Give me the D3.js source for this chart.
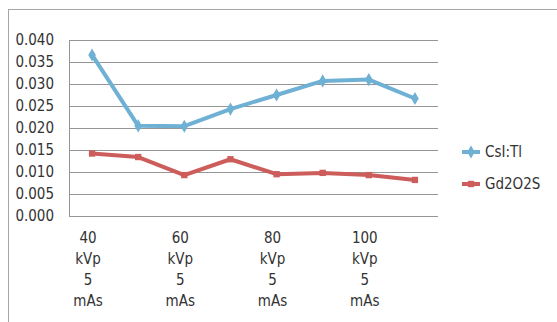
<!DOCTYPE html>
<html>
<head>
<meta charset="utf-8">
<script src="https://cdn.jsdelivr.net/npm/d3@7"></script>
<style>
  body { margin: 0; background: #fff; }
  svg { display: block; }
  text { font-family: "DejaVu Sans Condensed", "Liberation Sans Narrow", "Liberation Sans", sans-serif; fill: #333; }
</style>
</head>
<body>
<svg id="chart" width="557" height="322"></svg>
<script>
// categories (only every other one gets a label, like the original)
const categories = ["40 kVp 5 mAs", "50 kVp 5 mAs", "60 kVp 5 mAs", "70 kVp 5 mAs",
                    "80 kVp 5 mAs", "90 kVp 5 mAs", "100 kVp 5 mAs", "110 kVp 5 mAs"];
const shownLabels = [["40", "kVp", "5", "mAs"], null, ["60", "kVp", "5", "mAs"], null,
                     ["80", "kVp", "5", "mAs"], null, ["100", "kVp", "5", "mAs"], null];
const csiValues = [0.0366, 0.0205, 0.0204, 0.0243, 0.0275, 0.0307, 0.0310, 0.0267];
const gdValues  = [0.0142, 0.0134, 0.0093, 0.0129, 0.0095, 0.0098, 0.0093, 0.0082];
const yTicks = [0, 0.005, 0.010, 0.015, 0.020, 0.025, 0.030, 0.035, 0.040];

const svg = d3.select("#chart");

// outer chart frame (cut off at right/bottom)
svg.append("rect")
    .attr("x", 8.5).attr("y", 9.5)
    .attr("width", 600).attr("height", 400)
    .attr("fill", "none").attr("stroke", "#a6a6a6").attr("stroke-width", 1);

const plot = { left: 69, right: 438, top: 40, bottom: 216 };

const x = d3.scaleBand().domain(categories).range([plot.left, plot.right]);
const y = d3.scaleLinear().domain([0, 0.040]).range([plot.bottom, plot.top]);

// gridlines
svg.append("g")
    .selectAll("line")
    .data(yTicks)
    .join("line")
    .attr("x1", plot.left).attr("x2", plot.right)
    .attr("y1", d => Math.round(y(d)) + 0.5).attr("y2", d => Math.round(y(d)) + 0.5)
    .attr("stroke", "#969696").attr("stroke-width", 1);

// y axis line
svg.append("line")
    .attr("x1", plot.left + 0.5).attr("x2", plot.left + 0.5)
    .attr("y1", plot.top).attr("y2", plot.bottom + 0.5)
    .attr("stroke", "#969696");

// y tick labels
svg.append("g")
    .selectAll("text")
    .data(yTicks)
    .join("text")
    .attr("x", 54)
    .attr("y", d => y(d))
    .attr("dy", "0.36em")
    .attr("text-anchor", "end")
    .attr("font-size", 15)
    .text(d => d3.format(".3f")(d));

// x labels
const xl = svg.append("g");
categories.forEach((c, i) => {
    const lines = shownLabels[i];
    if (!lines) return;
    const cx = x(c) + x.bandwidth() / 2 - 4;
    const t = xl.append("text")
        .attr("x", cx)
        .attr("y", 243)
        .attr("text-anchor", "middle")
        .attr("font-size", 15);
    lines.forEach((ln, k) => {
        t.append("tspan")
            .attr("x", cx)
            .attr("dy", k === 0 ? 0 : 21)
            .text(ln);
    });
});

const series = [
    { name: "CsI:Tl", values: csiValues, color: "#6fb0d5", symbol: d3.symbolDiamond, size: 50 },
    { name: "Gd2O2S", values: gdValues, color: "#cd5d5b", symbol: d3.symbolSquare, size: 40 }
];

const line = d3.line()
    .x((d, i) => x(categories[i]) + x.bandwidth() / 2)
    .y(d => y(d));

series.forEach(s => {
    svg.append("path")
        .datum(s.values)
        .attr("fill", "none")
        .attr("stroke", s.color)
        .attr("stroke-width", 4)
        .attr("stroke-linejoin", "round")
        .attr("d", line);
    svg.append("g")
        .selectAll("path")
        .data(s.values)
        .join("path")
        .attr("transform", (d, i) => `translate(${x(categories[i]) + x.bandwidth() / 2},${y(d)})`)
        .attr("d", d3.symbol().type(s.symbol).size(s.size))
        .attr("fill", s.color);
});

// legend
const legend = svg.append("g");
series.forEach((s, i) => {
    const ly = 152 + i * 32;
    legend.append("line")
        .attr("x1", 462).attr("x2", 480)
        .attr("y1", ly).attr("y2", ly)
        .attr("stroke", s.color).attr("stroke-width", 4);
    legend.append("path")
        .attr("transform", `translate(471,${ly})`)
        .attr("d", d3.symbol().type(s.symbol).size(s.size))
        .attr("fill", s.color);
    legend.append("text")
        .attr("x", 485).attr("y", ly)
        .attr("dy", "0.36em")
        .attr("font-size", 15)
        .text(s.name);
});
</script>
</body>
</html>
